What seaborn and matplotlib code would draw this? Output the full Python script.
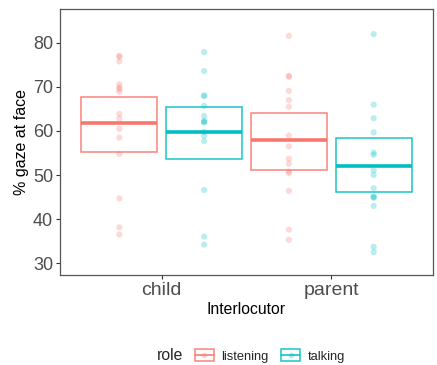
import numpy as np
import pandas as pd
import matplotlib
matplotlib.use("Agg")
import matplotlib.pyplot as plt
import seaborn as sns
from matplotlib.patches import Rectangle
from matplotlib.lines import Line2D
from matplotlib.legend_handler import HandlerTuple

interlocutors = ["child", "parent"]
roles = ["listening", "talking"]
colors = {"listening": "#F8766D", "talking": "#00BFC4"}

child_listening = [77.1, 76.8, 75.8, 70.6, 69.9, 69.5, 68.9, 63.9, 62.8,
                   60.5, 58.5, 54.8, 44.7, 38.1, 36.5]
child_talking = [77.9, 73.6, 68.1, 67.9, 65.7, 63.4, 62.3, 62.0, 62.0,
                 59.8, 58.9, 57.7, 46.6, 36.0, 34.2]
parent_listening = [81.6, 72.5, 72.3, 69.1, 67.0, 65.5, 59.0, 56.5, 53.7,
                    52.6, 50.8, 50.4, 46.4, 37.6, 35.3]
parent_talking = [82.0, 66.0, 62.9, 59.7, 55.1, 54.6, 51.1, 50.0, 47.0,
                  45.2, 44.9, 44.9, 43.0, 33.7, 32.5]

# crossbar summaries (centre, lower, upper) per interlocutor x role
bar_inter = ["child", "child", "parent", "parent"]
bar_role = ["listening", "talking", "listening", "talking"]
bar_mid = [61.9, 59.7, 58.0, 52.0]
bar_low = [55.2, 53.6, 51.2, 46.1]
bar_high = [67.7, 65.5, 64.0, 58.4]

groups = {
    ("child", "listening"): child_listening,
    ("child", "talking"): child_talking,
    ("parent", "listening"): parent_listening,
    ("parent", "talking"): parent_talking,
}
rows = []
for (who, role), vals in groups.items():
    for v in vals:
        rows.append({"Interlocutor": who, "role": role, "gaze": v})
df = pd.DataFrame(rows)

dodge = {"listening": -0.25, "talking": 0.25}
bar_w = 0.45
df["xpos"] = df["Interlocutor"].map(interlocutors.index) + df["role"].map(dodge)

sns.set_theme(style="white")
plt.rcParams["font.family"] = ["Liberation Sans", "DejaVu Sans"]

fig = plt.figure(figsize=(4.37, 3.65), dpi=100)
ax = fig.add_axes([60 / 437, 1 - 275 / 365, 373 / 437, 266 / 365])

sns.scatterplot(data=df, x="xpos", y="gaze", hue="role", palette=colors,
                alpha=0.27, s=20, linewidth=0, legend=False, ax=ax)

bars = pd.DataFrame({"Interlocutor": bar_inter, "role": bar_role,
                     "mid": bar_mid, "low": bar_low, "high": bar_high})
bars["xpos"] = bars["Interlocutor"].map(interlocutors.index) + bars["role"].map(dodge)
for _, r in bars.iterrows():
    c = colors[r["role"]]
    ax.bar(r["xpos"], r["high"] - r["low"], bottom=r["low"], width=bar_w,
           fill=False, edgecolor=c, linewidth=1.1, alpha=0.9)
    ax.hlines(r["mid"], r["xpos"] - bar_w / 2, r["xpos"] + bar_w / 2,
              color=c, linewidth=2.6)

ax.set_xlim(-0.6, 1.6)
ax.set_ylim(27.3, 87.7)
ax.set_xticks(range(len(interlocutors)))
ax.set_xticklabels(interlocutors)
ax.set_yticks([30, 40, 50, 60, 70, 80])
ax.tick_params(axis="x", labelsize=14, colors="#4D4D4D", length=3,
               width=0.8, direction="out", bottom=True, pad=2)
ax.tick_params(axis="y", labelsize=13, colors="#4D4D4D", length=3,
               width=0.8, direction="out", left=True, pad=2)
ax.tick_params(axis="both", color="#333333")
for sp in ax.spines.values():
    sp.set_color("#555555")
    sp.set_linewidth(0.9)
ax.set_xlabel("Interlocutor", fontsize=11.3, color="black", labelpad=2)
ax.set_ylabel("% gaze at face", fontsize=11.5, color="black", labelpad=3)
ax.grid(False)

handles = []
for role in roles:
    c = colors[role]
    box = Rectangle((0, 0), 1, 1, facecolor="none", edgecolor=c,
                    linewidth=1.1, alpha=0.9)
    mid = Line2D([0, 1], [0, 0], color=c, linewidth=1.1)
    dot = Line2D([0], [0], marker="o", color=c, alpha=0.3, linestyle="none",
                 markersize=4, markeredgewidth=0)
    handles.append((box, mid, dot))

leg = fig.legend(handles, roles, loc="center", bbox_to_anchor=(270 / 437, 1 - 356 / 365),
                 ncol=2, frameon=False, fontsize=9.3,
                 handler_map={tuple: HandlerTuple(ndivide=1)},
                 handlelength=1.45, handleheight=0.95, handletextpad=0.6,
                 columnspacing=1.0)
fig.text(157 / 437, 1 - 356 / 365, "role", fontsize=11.3, va="center", ha="left")

fig.savefig("out.png", dpi=100)
